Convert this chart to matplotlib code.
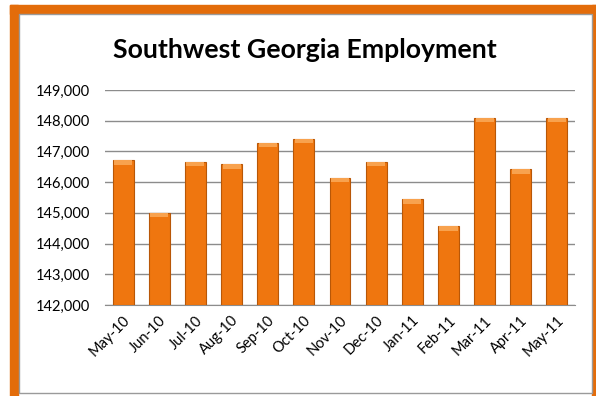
import matplotlib
matplotlib.use("Agg")
import matplotlib.pyplot as plt
from matplotlib.patches import Rectangle

months = ["May-10", "Jun-10", "Jul-10", "Aug-10", "Sep-10", "Oct-10", "Nov-10",
          "Dec-10", "Jan-11", "Feb-11", "Mar-11", "Apr-11", "May-11"]
employment = [146720, 145000, 146660, 146580, 147280, 147410, 146150,
              146660, 145440, 144570, 148100, 146420, 148100]
yticks = [142000, 143000, 144000, 145000, 146000, 147000, 148000, 149000]

plt.rcParams['font.family'] = ['Lato', 'DejaVu Sans']

fig = plt.figure(figsize=(5.96, 3.96), dpi=100)
W, H = 596, 396
def fr(x0, y0, x1, y1, **kw):
    fig.patches.append(Rectangle((x0 / W, 1 - y1 / H), (x1 - x0) / W, (y1 - y0) / H,
                                 transform=fig.transFigure, figure=fig, **kw))
orange = "#E36C0A"
fr(10, 5, 596, 14, color=orange, zorder=-2)
fr(10, 5, 18, 396, color=orange, zorder=-2)
fr(592, 5, 596, 396, color=orange, zorder=-2)
fr(18.5, 14, 591.5, 392.5, facecolor="white", edgecolor="#9a9a9a", linewidth=1.0, zorder=-1)

ax = fig.add_axes([105 / W, 1 - 305 / H, 470 / W, 215 / H])
ax.set_zorder(1)
ax.set_facecolor("none")
x = list(range(len(months)))
base = yticks[0]
ax.bar(x, [v - base for v in employment], bottom=base, width=0.58,
       color="#EF760F", edgecolor="#B85707", linewidth=0.8, zorder=3)
# bevel highlight at the top of each bar
cap = 150
ax.bar(x, [cap] * len(x), bottom=[v - cap for v in employment], width=0.50,
       color="#F8A24E", linewidth=0, zorder=4)
ax.set_xlim(-0.5, len(months) - 0.5)
ax.set_ylim(yticks[0], yticks[-1])
ax.set_yticks(yticks)
ax.set_yticklabels([f"{t:,}" for t in yticks], fontsize=10.5)
ax.set_xticks(x)
ax.set_xticklabels(months, rotation=45, ha="right", rotation_mode="anchor", fontsize=10.5)
ax.tick_params(length=0, pad=11, axis='y')
ax.tick_params(length=0, pad=6, axis='x')
ax.grid(axis='y', color="#8c8c8c", linewidth=1.0, zorder=0)
for s in ["top", "right", "left"]:
    ax.spines[s].set_visible(False)
ax.spines["bottom"].set_color("#8c8c8c")
ax.set_axisbelow(True)

fig.text(305 / W, 1 - 50 / H, "Southwest Georgia Employment", ha="center", va="center",
         fontsize=19.2, fontweight="bold", zorder=2)

fig.savefig("out.png", dpi=100)
